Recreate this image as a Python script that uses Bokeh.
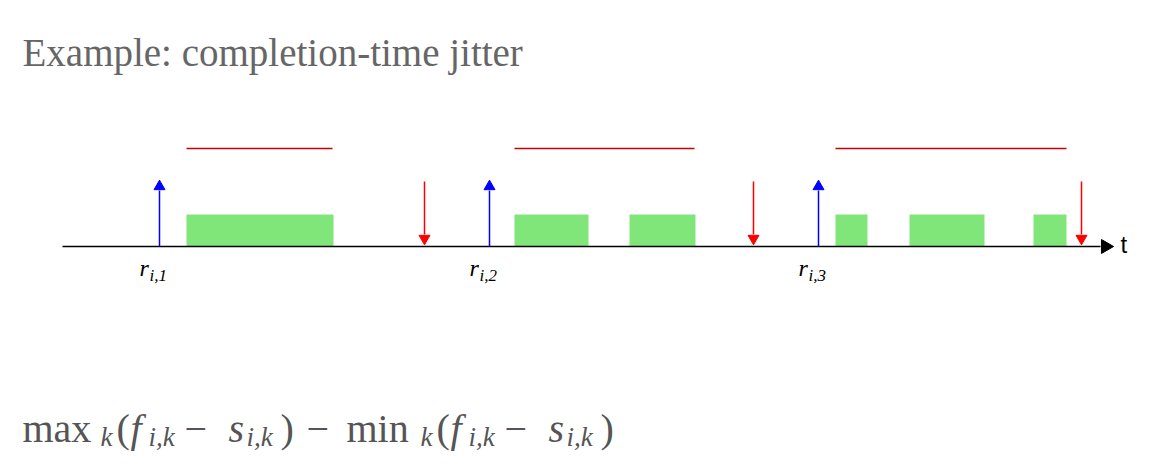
from bokeh.plotting import figure
from bokeh.models import Range1d
from bokeh.core.properties import value
from bokeh.embed import file_html
from bokeh.resources import INLINE

# timeline data (pixel-like units)
release_x = [159, 489, 818]
release_labels = ["1", "2", "3"]
deadline_x = [424, 753, 1081]
exec_start = [186, 514, 629, 835, 909, 1033]
exec_end = [333, 588, 695, 867, 984, 1066]
resp_start = [186, 514, 835]
resp_end = [332, 694, 1066]

# formula pieces: text, x, style
f_text = ["max", "k", "(", "f", "i,k", "\u2212", "s", "i,k", ")", "\u2212",
          "min", "k", "(", "f", "i,k", "\u2212", "s", "i,k", ")"]
f_x = [22, 100, 116, 130, 148, 184, 228, 246, 280, 306,
       346, 420, 436, 450, 468, 504, 548, 566, 600]
f_kind = ["n", "s", "n", "i", "s", "n", "i", "s", "n", "n",
          "n", "s", "n", "i", "s", "n", "i", "s", "n"]

p = figure(width=1152, height=454, output_backend="svg", toolbar_location=None,
           x_range=Range1d(0, 1152), y_range=Range1d(454, 0),
           min_border=0)
p.axis.visible = False
p.grid.visible = False
p.outline_line_color = None

p.text(x=[22], y=[52], text=["Example: completion-time jitter"],
       text_font=value("Liberation Serif"), text_font_size="39px",
       text_color="#666666", text_baseline="alphabetic")

# response-time bars
p.segment(x0=resp_start, y0=[148] * 3, x1=resp_end, y1=[148] * 3,
          line_color="#cc0000", line_width=1.5)
# execution blocks
p.quad(left=exec_start, right=exec_end, top=[214] * 6, bottom=[246] * 6,
       fill_color="#80e67a", line_color=None)

# time axis
p.segment(x0=[62], y0=[246], x1=[1100], y1=[246], line_color="black", line_width=1.5)
p.scatter(x=[1105], y=[246], marker="triangle", angle=-1.5708, size=14,
          fill_color="black", line_color="black")
p.text(x=[1120], y=[257], text=["t"], text_font=value("Liberation Sans"),
       text_font_size="24px", text_color="black")

# release arrows (up)
n = len(release_x)
p.segment(x0=release_x, y0=[246] * n, x1=release_x, y1=[190] * n, line_color="blue", line_width=1.5)
p.scatter(x=release_x, y=[186] * n, marker="triangle", size=11,
          fill_color="blue", line_color="blue")
# deadline arrows (down)
m = len(deadline_x)
p.segment(x0=deadline_x, y0=[181] * m, x1=deadline_x, y1=[234] * m, line_color="red", line_width=1.5)
p.scatter(x=deadline_x, y=[238] * m, marker="triangle", size=11, angle=3.14159,
          fill_color="red", line_color="red")

# release labels r_{i,k}
p.text(x=[x - 20 for x in release_x], y=[280] * n, text=["r"] * n,
       text_font=value("Liberation Serif"), text_font_style="italic",
       text_font_size="24px", text_color="black")
p.text(x=[x - 10 for x in release_x], y=[284] * n, text=["i," + s for s in release_labels],
       text_font=value("Liberation Serif"), text_font_style="italic",
       text_font_size="17px", text_color="black")

# formula
for kind, size, dy, style in [("n", "40px", 0, "normal"), ("i", "40px", 0, "italic"),
                              ("s", "27px", 8, "italic")]:
    xs = [x for x, k in zip(f_x, f_kind) if k == kind]
    ts = [t for t, k in zip(f_text, f_kind) if k == kind]
    p.text(x=xs, y=[428 + dy] * len(xs), text=ts, text_font=value("Liberation Serif"),
           text_font_style=style, text_font_size=size, text_color="#555555",
           text_baseline="alphabetic")

open("out.html", "w").write(file_html(p, INLINE))
